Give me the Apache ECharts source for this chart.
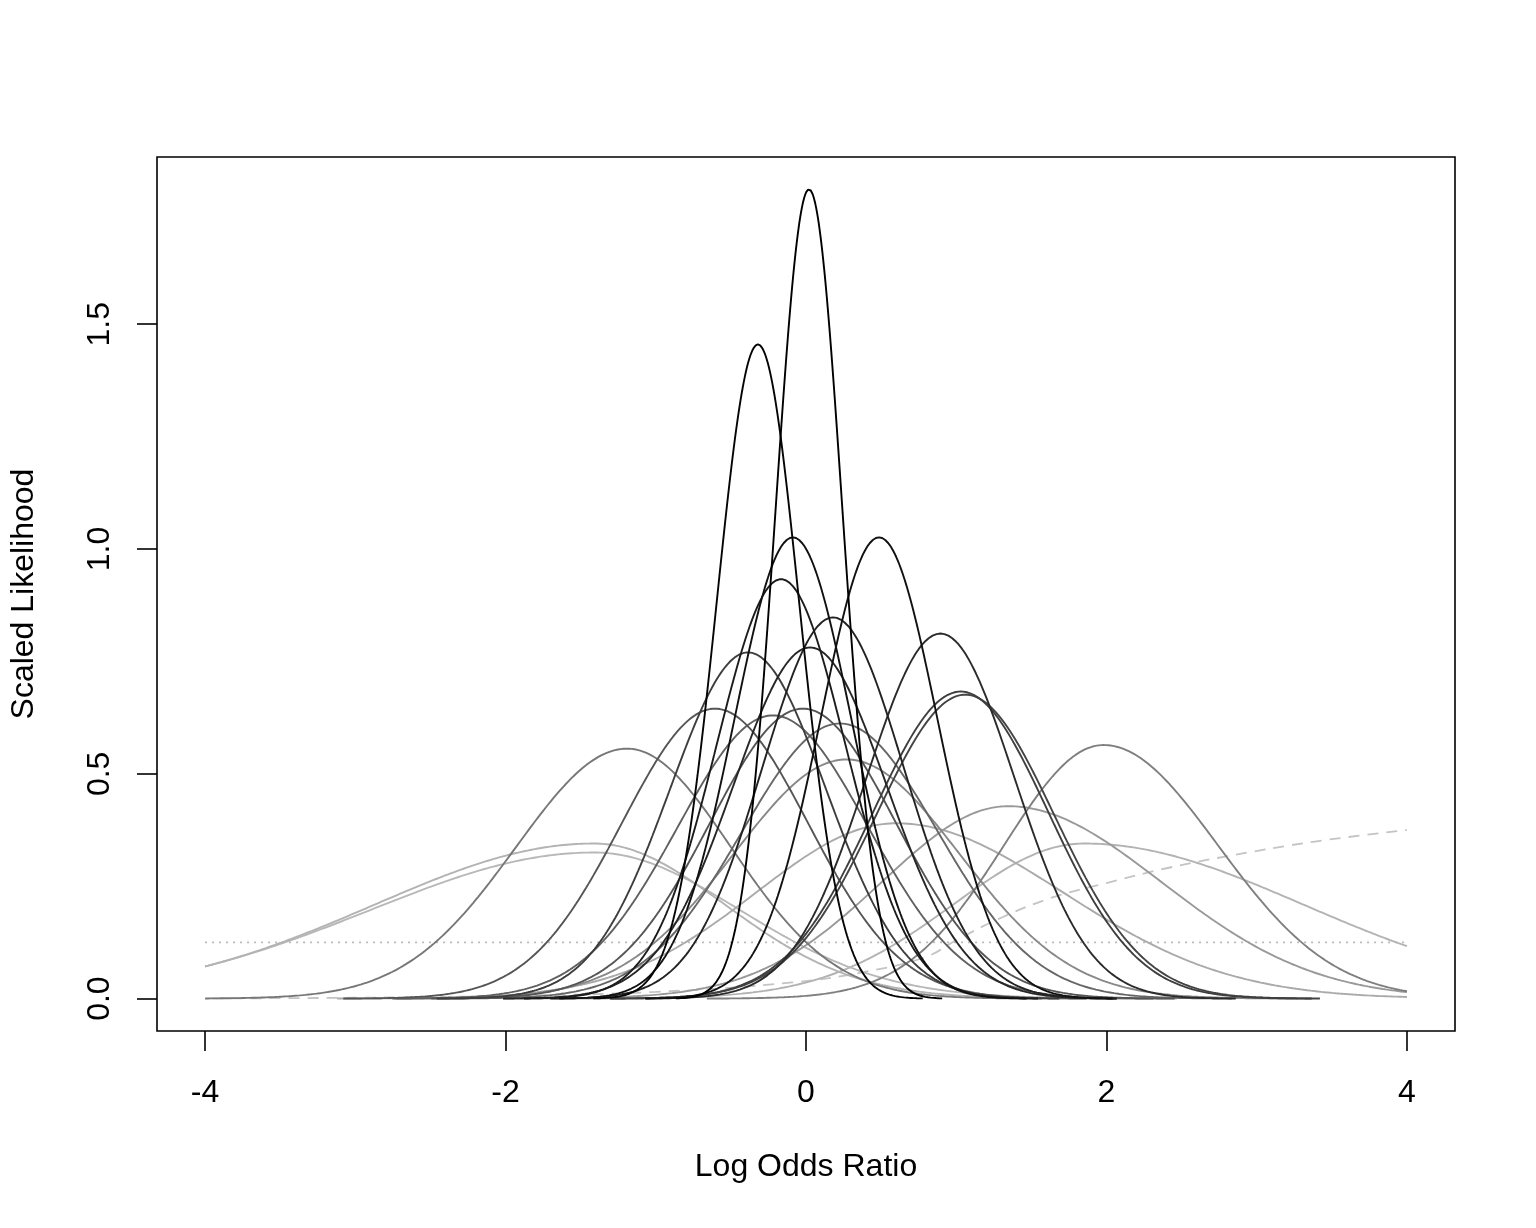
<!DOCTYPE html>
<html><head><meta charset="utf-8">
<script src="https://cdn.jsdelivr.net/npm/echarts@6/dist/echarts.min.js"></script>
<style>html,body{margin:0;padding:0;background:#fff}#c{width:1536px;height:1228px}</style>
</head><body><div id="c"></div>
<script>
// Per-study scaled likelihood curves (mode, peak height, left/right spread)
const modes   = [0.02, -0.32, -0.087, 0.486, -0.166, 0.18, 0.895, 0.027, -0.386, 1.03, 1.06, -0.606, -0.02, -0.22, 0.226, -1.19, 1.98, 0.27, 1.345, 0.6, -1.41, -1.41, 1.85];
const heights = [1.80, 1.455, 1.026, 1.026, 0.933, 0.848, 0.812, 0.781, 0.770, 0.683, 0.676, 0.645, 0.645, 0.630, 0.612, 0.556, 0.564, 0.532, 0.428, 0.390, 0.345, 0.325, 0.345];
const sdLeft  = [0.2216, 0.2742, 0.3888, 0.3888, 0.4276, 0.4705, 0.4913, 0.5108, 0.5181, 0.5841, 0.5902, 0.6185, 0.6185, 0.6332, 0.6519, 0.74, 0.66, 0.75, 0.84, 0.93, 1.46, 1.49, 0.87];
const sdRight = [0.2216, 0.2742, 0.3888, 0.3888, 0.4276, 0.4705, 0.4913, 0.5108, 0.5181, 0.5841, 0.5902, 0.6185, 0.6185, 0.6332, 0.6519, 0.69, 0.76, 0.75, 1.02, 1.11, 0.87, 0.97, 1.46];
const greys   = ['#000000','#050505','#111111','#111111','#1c1c1c','#222222','#2b2b2b','#262626','#3d3d3d','#3f3f3f','#444444','#555555','#555555','#606060','#666666','#777777','#7f7f7f','#888888','#999999','#aaaaaa','#b3b3b3','#b8b8b8','#b3b3b3'];

// Study with no information: flat likelihood
const flatX = [-4, 4];
const flatY = [0.125, 0.125];
// Study with a zero cell: monotone likelihood (dashed)
const dashedX = [-3.95, -3, -2, -1, -0.09, 0.4, 0.8, 1.0, 1.3, 1.64, 2.0, 2.4, 2.79, 3.4, 4.0];
const dashedY = [0.0005, 0.002, 0.006, 0.015, 0.036, 0.06, 0.093, 0.13, 0.18, 0.225, 0.257, 0.29, 0.316, 0.35, 0.375];

const xTicks = [-4, -2, 0, 2, 4];
const yTicks = [0, 0.5, 1.0, 1.5];
const xTitle = 'Log Odds Ratio';
const yTitle = 'Scaled Likelihood';

function curvePoints(i) {
  const lo = Math.max(-4, modes[i] - 4 * sdLeft[i]);
  const hi = Math.min(4, modes[i] + 4 * sdRight[i]);
  const n = 300, pts = [];
  for (let k = 0; k <= n; k++) {
    const x = lo + (hi - lo) * k / n;
    const s = x < modes[i] ? sdLeft[i] : sdRight[i];
    const z = (x - modes[i]) / s;
    pts.push([x, heights[i] * Math.exp(-0.5 * z * z)]);
  }
  return pts;
}

const series = [];
series.push({type:'line', data: flatX.map((x,k)=>[x, flatY[k]]), showSymbol:false, silent:true,
  lineStyle:{color:'#bababa', width:1.8, type:[2,5]}});
series.push({type:'line', data: dashedX.map((x,k)=>[x, dashedY[k]]), smooth:0.4, showSymbol:false, silent:true,
  lineStyle:{color:'#c4c4c4', width:1.8, type:[11,8]}});
for (let i = modes.length - 1; i >= 0; i--) {
  series.push({type:'line', data: curvePoints(i), showSymbol:false, silent:true,
    lineStyle:{color: greys[i], width:1.9}});
}

const chart = echarts.init(document.getElementById('c'), null, {renderer:'canvas'});
const font = '"Liberation Sans", Arial, Helvetica, sans-serif';
chart.setOption({
  animation:false,
  backgroundColor:'#ffffff',
  grid:{left:157, top:157, width:1298, height:874, show:true, borderColor:'#000', borderWidth:1.6, backgroundColor:'transparent'},
  xAxis:{type:'value', min:-4.32, max:4.32, position:'bottom',
    axisLine:{show:false, onZero:false},
    splitLine:{show:false},
    axisTick:{show:true, length:20, customValues:xTicks, lineStyle:{color:'#000', width:1.6}},
    axisLabel:{customValues:xTicks, margin:46, fontSize:32, color:'#000', fontFamily:font, formatter:v=>String(v)},
    name:xTitle, nameLocation:'middle', nameGap:120, nameTextStyle:{fontSize:32, color:'#000', fontFamily:font}
  },
  yAxis:{type:'value', min:-0.072, max:1.872, position:'left',
    axisLine:{show:false, onZero:false},
    splitLine:{show:false},
    axisTick:{show:true, length:20, customValues:yTicks, lineStyle:{color:'#000', width:1.6}},
    axisLabel:{customValues:yTicks, rotate:90, margin:41, fontSize:32, color:'#000', fontFamily:font, formatter:v=>v.toFixed(1)},
    name:yTitle, nameLocation:'middle', nameRotate:90, nameGap:117, nameTextStyle:{fontSize:32, color:'#000', fontFamily:font}
  },
  series: series
});
</script></body></html>
